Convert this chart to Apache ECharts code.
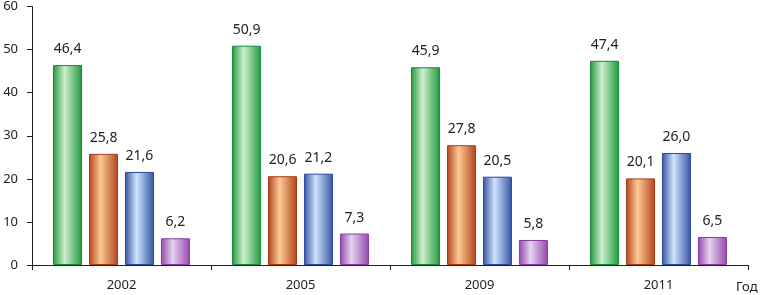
<!DOCTYPE html>
<html>
<head>
<meta charset="utf-8">
<script src="https://cdn.jsdelivr.net/npm/echarts@6/dist/echarts.min.js"></script>
<style>
  html, body { margin: 0; padding: 0; background: #fff; }
  #chart { width: 762px; height: 295px; }
</style>
</head>
<body>
<div id="chart"></div>
<script>
// данные
const years = ['2002', '2005', '2009', '2011'];
const greenVals = [46.4, 50.9, 45.9, 47.4];
const orangeVals = [25.8, 20.6, 27.8, 20.1];
const blueVals = [21.6, 21.2, 20.5, 26.0];
const purpleVals = [6.2, 7.3, 5.8, 6.5];
const yTicks = [0, 10, 20, 30, 40, 50, 60];

const font = '"Noto Sans", "Open Sans", sans-serif';

function grad(edge, light) {
  return new echarts.graphic.LinearGradient(0, 0, 1, 0, [
    { offset: 0, color: edge },
    { offset: 0.4, color: light },
    { offset: 1, color: edge }
  ]);
}

function makeSeries(name, data, edge, light, border) {
  return {
    name,
    type: 'bar',
    data,
    barWidth: 29,
    barGap: '24%',
    itemStyle: {
      color: grad(edge, light),
      borderColor: border,
      borderWidth: 1
    },
    label: {
      show: true,
      position: 'top',
      distance: 9,
      color: '#222',
      fontFamily: font,
      fontSize: 14,
      formatter: p => p.value.toFixed(1).replace('.', ',')
    }
  };
}

const chart = echarts.init(document.getElementById('chart'));
chart.setOption({
  animation: false,
  grid: { left: 32, right: 14, top: 5, bottom: 30 },
  xAxis: {
    type: 'category',
    data: years,
    name: 'Год',
    nameLocation: 'end',
    nameGap: -12,
    nameTextStyle: {
      fontFamily: font,
      fontSize: 13,
      color: '#222',
      verticalAlign: 'top',
      padding: [16, 0, 0, 0]
    },
    axisLine: { lineStyle: { color: '#222', width: 1 } },
    axisTick: { show: true, length: 5, lineStyle: { color: '#222' } },
    axisLabel: { color: '#222', fontFamily: font, fontSize: 13, margin: 14 }
  },
  yAxis: {
    type: 'value',
    min: yTicks[0],
    max: yTicks[yTicks.length - 1],
    interval: 10,
    splitLine: { show: false },
    axisLine: { show: true, lineStyle: { color: '#222', width: 1 } },
    axisTick: { show: true, length: 5, lineStyle: { color: '#222' } },
    axisLabel: { color: '#222', fontFamily: font, fontSize: 13, margin: 14 }
  },
  series: [
    makeSeries('s1', greenVals, '#1f9a3c', '#cdeecd', '#17883a'),
    makeSeries('s2', orangeVals, '#b2431c', '#fcca95', '#a83818'),
    makeSeries('s3', blueVals, '#3553a3', '#cde3fb', '#2d4a98'),
    makeSeries('s4', purpleVals, '#9446ab', '#e2d4ee', '#8a3ca2')
  ]
});
</script>
</body>
</html>
